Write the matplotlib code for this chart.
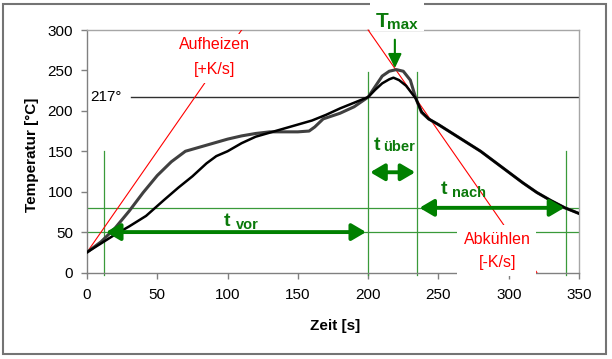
import matplotlib
matplotlib.use("Agg")
import matplotlib.pyplot as plt
from matplotlib.patches import Rectangle, FancyArrowPatch, ArrowStyle

plt.rcParams['font.family'] = ['Liberation Sans', 'DejaVu Sans']

# ---- data ----
x_profile_a = [0, 10, 20, 30, 40, 50, 60, 70, 80, 90, 100, 110, 120, 130, 140, 150, 158, 162, 168,
               180, 190, 200, 205, 210, 215, 220, 225, 230, 234, 238, 243, 250, 260, 270, 280,
               290, 300, 310, 320, 330, 340, 350]
y_profile_a = [25, 38, 55, 76, 99, 120, 137, 150, 155, 160, 165, 169, 172, 174, 174, 174, 175, 180, 190,
               197, 205, 217, 230, 243, 249, 251, 249, 238, 215, 198, 190, 183, 172, 161, 150,
               137, 124, 111, 99, 89, 80, 73]
x_profile_b = [0, 10, 20, 30, 42, 55, 65, 75, 85, 92, 100, 110, 120, 130, 140, 150, 160, 170,
               180, 190, 200, 205, 210, 215, 218, 222, 227, 234, 238, 243, 250, 260, 270, 280,
               290, 300, 310, 320, 330, 340, 350]
y_profile_b = [25, 36, 47, 57, 70, 90, 105, 119, 135, 144, 150, 160, 168, 173, 178, 183, 188, 195,
               203, 210, 217, 226, 234, 239, 241, 238, 231, 215, 199, 190, 183, 172, 161, 150,
               137, 124, 111, 99, 89, 80, 73]

liquidus = 217
heat_tangent_x = [0, 110]
heat_tangent_y = [25, 300]
cool_tangent_x = [200, 320]
cool_tangent_y = [300, 0]

t_marks = [12, 200, 235, 341]          # green vertical markers [s]
t_mark_tops = [150, 248, 248, 150]
temp_marks = [50, 80]                  # green horizontal markers [°C]
tmax_time = 219
tmax_value = 251
uber_arrow_y = 124

x_ticks = [0, 50, 100, 150, 200, 250, 300, 350]
y_ticks = [0, 50, 100, 150, 200, 250, 300]

GREEN_LINE = '#3a9a3a'
GREEN = '#008000'
GREEN_TXT = '#0b7a0b'

fig = plt.figure(figsize=(6.12, 3.59), dpi=100)
ax = fig.add_axes([87/612, 1-272.5/359, (579-87)/612, (272.5-30)/359])
ax.set_xlim(0, 350)
ax.set_ylim(0, 300)

# figure frame
fig.patches.append(Rectangle((3/612, 1-354/359), 603/612, 350/359, transform=fig.transFigure,
                             fill=False, edgecolor='#747474', lw=1.5, zorder=-1))

# spines / ticks
for s in ['left', 'bottom']:
    ax.spines[s].set_color('#808080')
for s in ['top', 'right']:
    ax.spines[s].set_color('#a6a6a6')
for s in ax.spines.values():
    s.set_linewidth(1.0)
ax.set_xticks(x_ticks)
ax.set_yticks(y_ticks)
ax.tick_params(direction='out', length=4, width=1, color='#808080', labelsize=11)
ax.tick_params(axis='y', pad=6)
ax.tick_params(axis='x', pad=7)

fig.text(31.7/612, 1-154.5/359, 'Temperatur [°C]', rotation=90, ha='center', va='center',
         fontsize=11, fontweight='bold')
fig.text(335/612, 1-326/359, 'Zeit [s]', ha='center', va='center', fontsize=11, fontweight='bold')

# green marker lines
for x, top in zip(t_marks, t_mark_tops):
    ax.plot([x, x], [-3, top], color=GREEN_LINE, lw=0.9, clip_on=False, zorder=2)
for y in temp_marks:
    ax.plot([0, 350], [y, y], color=GREEN_LINE, lw=0.9, zorder=2)

# liquidus line
ax.plot([31, 350], [liquidus, liquidus], color='#303030', lw=1.0, zorder=2)
ax.text(2.5, liquidus, '217°', fontsize=11, ha='left', va='center', zorder=3)

# tangents
ax.plot(heat_tangent_x, heat_tangent_y, color='red', lw=0.8, zorder=3)
ax.plot(cool_tangent_x, cool_tangent_y, color='red', lw=0.8, zorder=3, clip_on=False)

# profiles
ax.plot(x_profile_a, y_profile_a, color='#404040', lw=2.2, zorder=4, solid_joinstyle='round')
ax.plot(x_profile_b, y_profile_b, color='black', lw=1.8, zorder=5, solid_joinstyle='round')

# double arrows
dstyle = ArrowStyle('<|-|>', head_length=8.5, head_width=5)
def darrow(x0, x1, y):
    ax.add_patch(FancyArrowPatch((x0, y), (x1, y), arrowstyle=dstyle, mutation_scale=1,
                                 lw=2.8, color=GREEN, shrinkA=1.5, shrinkB=1.5, zorder=6))
darrow(t_marks[0], t_marks[1], temp_marks[0])
darrow(t_marks[1], t_marks[2], uber_arrow_y)
darrow(t_marks[2], t_marks[3], temp_marks[1])

# Tmax arrow
ax.add_patch(FancyArrowPatch((tmax_time, 288), (tmax_time, tmax_value),
                             arrowstyle=ArrowStyle('-|>', head_length=8.5, head_width=4),
                             mutation_scale=1, lw=1.5, color=GREEN, shrinkA=0, shrinkB=1,
                             zorder=6, clip_on=False))

# white label boxes
ax.add_patch(Rectangle((64.5, 234), 54.5, 61.5, facecolor='white', edgecolor='none', zorder=7))
ax.add_patch(Rectangle((263.5, -4.5), 56, 63, facecolor='white', edgecolor='none', zorder=7,
                       clip_on=False))
ax.add_patch(Rectangle((201, 299), 39, 45, facecolor='white', edgecolor='none', zorder=7,
                       clip_on=False))

# red labels
ax.text(91, 281.5, 'Aufheizen', color='red', fontsize=11.5, ha='center', va='center', zorder=8)
ax.text(91, 251.5, '[+K/s]', color='red', fontsize=11.5, ha='center', va='center', zorder=8)
ax.text(292, 41, 'Abkühlen', color='red', fontsize=11.5, ha='center', va='center', zorder=8,
        clip_on=False)
ax.text(292, 12, '[-K/s]', color='red', fontsize=11.5, ha='center', va='center', zorder=8,
        clip_on=False)

# green time labels
def glabel(x, y, main, sub, xs, ys, fs_main=14, fs_sub=10.5):
    ax.text(x, y, main, color=GREEN_TXT, fontsize=fs_main, fontweight='bold', ha='left',
            va='baseline', zorder=8, clip_on=False)
    ax.text(xs, ys, sub, color=GREEN_TXT, fontsize=fs_sub, fontweight='bold', ha='left',
            va='baseline', zorder=8, clip_on=False)

glabel(205.5, 304, 'T', 'max', 213.4, 301.5, fs_main=15, fs_sub=11)
glabel(204, 152, 't', 'über', 211, 150)
glabel(97.4, 57.5, 't', 'vor', 106, 53.5)
glabel(251.8, 97, 't', 'nach', 259.6, 93.4)

fig.savefig('out.png', dpi=100)
